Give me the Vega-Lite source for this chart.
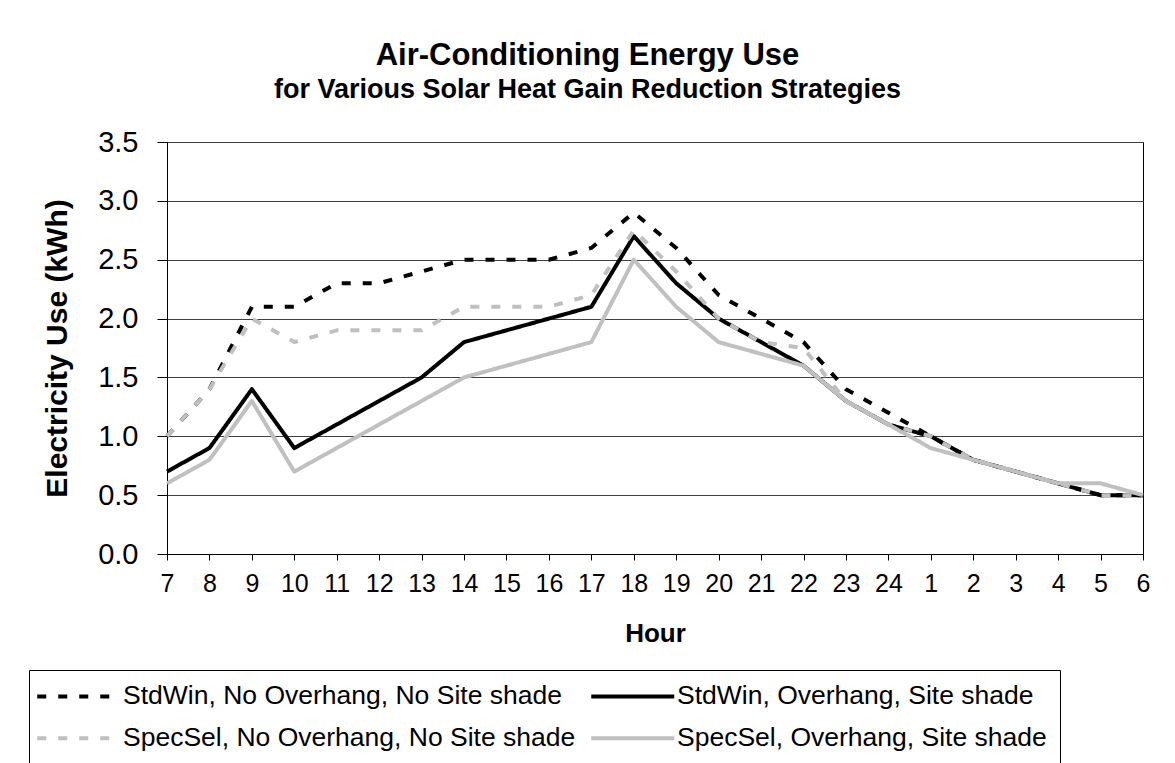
{
  "$schema": "https://vega.github.io/schema/vega-lite/v6.json",
  "width": 976,
  "height": 412,
  "autosize": {"type": "none"},
  "padding": {"left": 167, "top": 142, "right": 32, "bottom": 209},
  "background": "white",
  "title": {
    "text": "Air-Conditioning Energy Use",
    "subtitle": "for Various Solar Heat Gain Reduction Strategies",
    "anchor": "middle",
    "frame": "group",
    "dx": -67.5,
    "offset": 24,
    "font": "Liberation Sans",
    "fontSize": 31,
    "fontWeight": "bold",
    "color": "black",
    "subtitleFont": "Liberation Sans",
    "subtitleFontSize": 27,
    "subtitleFontWeight": "bold",
    "subtitleColor": "black",
    "subtitlePadding": 5
  },
  "data": {
    "values": [
      {"series": "StdWin, No Overhang, No Site shade", "hour": "7", "kwh": 1.0},
      {"series": "StdWin, No Overhang, No Site shade", "hour": "8", "kwh": 1.4},
      {"series": "StdWin, No Overhang, No Site shade", "hour": "9", "kwh": 2.1},
      {"series": "StdWin, No Overhang, No Site shade", "hour": "10", "kwh": 2.1},
      {"series": "StdWin, No Overhang, No Site shade", "hour": "11", "kwh": 2.3},
      {"series": "StdWin, No Overhang, No Site shade", "hour": "12", "kwh": 2.3},
      {"series": "StdWin, No Overhang, No Site shade", "hour": "13", "kwh": 2.4},
      {"series": "StdWin, No Overhang, No Site shade", "hour": "14", "kwh": 2.5},
      {"series": "StdWin, No Overhang, No Site shade", "hour": "15", "kwh": 2.5},
      {"series": "StdWin, No Overhang, No Site shade", "hour": "16", "kwh": 2.5},
      {"series": "StdWin, No Overhang, No Site shade", "hour": "17", "kwh": 2.6},
      {"series": "StdWin, No Overhang, No Site shade", "hour": "18", "kwh": 2.9},
      {"series": "StdWin, No Overhang, No Site shade", "hour": "19", "kwh": 2.6},
      {"series": "StdWin, No Overhang, No Site shade", "hour": "20", "kwh": 2.2},
      {"series": "StdWin, No Overhang, No Site shade", "hour": "21", "kwh": 2.0},
      {"series": "StdWin, No Overhang, No Site shade", "hour": "22", "kwh": 1.8},
      {"series": "StdWin, No Overhang, No Site shade", "hour": "23", "kwh": 1.4},
      {"series": "StdWin, No Overhang, No Site shade", "hour": "24", "kwh": 1.2},
      {"series": "StdWin, No Overhang, No Site shade", "hour": "1", "kwh": 1.0},
      {"series": "StdWin, No Overhang, No Site shade", "hour": "2", "kwh": 0.8},
      {"series": "StdWin, No Overhang, No Site shade", "hour": "3", "kwh": 0.7},
      {"series": "StdWin, No Overhang, No Site shade", "hour": "4", "kwh": 0.6},
      {"series": "StdWin, No Overhang, No Site shade", "hour": "5", "kwh": 0.5},
      {"series": "StdWin, No Overhang, No Site shade", "hour": "6", "kwh": 0.5},
      {"series": "StdWin, Overhang, Site shade", "hour": "7", "kwh": 0.7},
      {"series": "StdWin, Overhang, Site shade", "hour": "8", "kwh": 0.9},
      {"series": "StdWin, Overhang, Site shade", "hour": "9", "kwh": 1.4},
      {"series": "StdWin, Overhang, Site shade", "hour": "10", "kwh": 0.9},
      {"series": "StdWin, Overhang, Site shade", "hour": "11", "kwh": 1.1},
      {"series": "StdWin, Overhang, Site shade", "hour": "12", "kwh": 1.3},
      {"series": "StdWin, Overhang, Site shade", "hour": "13", "kwh": 1.5},
      {"series": "StdWin, Overhang, Site shade", "hour": "14", "kwh": 1.8},
      {"series": "StdWin, Overhang, Site shade", "hour": "15", "kwh": 1.9},
      {"series": "StdWin, Overhang, Site shade", "hour": "16", "kwh": 2.0},
      {"series": "StdWin, Overhang, Site shade", "hour": "17", "kwh": 2.1},
      {"series": "StdWin, Overhang, Site shade", "hour": "18", "kwh": 2.7},
      {"series": "StdWin, Overhang, Site shade", "hour": "19", "kwh": 2.3},
      {"series": "StdWin, Overhang, Site shade", "hour": "20", "kwh": 2.0},
      {"series": "StdWin, Overhang, Site shade", "hour": "21", "kwh": 1.8},
      {"series": "StdWin, Overhang, Site shade", "hour": "22", "kwh": 1.6},
      {"series": "StdWin, Overhang, Site shade", "hour": "23", "kwh": 1.3},
      {"series": "StdWin, Overhang, Site shade", "hour": "24", "kwh": 1.1},
      {"series": "StdWin, Overhang, Site shade", "hour": "1", "kwh": 1.0},
      {"series": "StdWin, Overhang, Site shade", "hour": "2", "kwh": 0.8},
      {"series": "StdWin, Overhang, Site shade", "hour": "3", "kwh": 0.7},
      {"series": "StdWin, Overhang, Site shade", "hour": "4", "kwh": 0.6},
      {"series": "StdWin, Overhang, Site shade", "hour": "5", "kwh": 0.5},
      {"series": "StdWin, Overhang, Site shade", "hour": "6", "kwh": 0.5},
      {"series": "SpecSel, No Overhang, No Site shade", "hour": "7", "kwh": 1.0},
      {"series": "SpecSel, No Overhang, No Site shade", "hour": "8", "kwh": 1.4},
      {"series": "SpecSel, No Overhang, No Site shade", "hour": "9", "kwh": 2.0},
      {"series": "SpecSel, No Overhang, No Site shade", "hour": "10", "kwh": 1.8},
      {"series": "SpecSel, No Overhang, No Site shade", "hour": "11", "kwh": 1.9},
      {"series": "SpecSel, No Overhang, No Site shade", "hour": "12", "kwh": 1.9},
      {"series": "SpecSel, No Overhang, No Site shade", "hour": "13", "kwh": 1.9},
      {"series": "SpecSel, No Overhang, No Site shade", "hour": "14", "kwh": 2.1},
      {"series": "SpecSel, No Overhang, No Site shade", "hour": "15", "kwh": 2.1},
      {"series": "SpecSel, No Overhang, No Site shade", "hour": "16", "kwh": 2.1},
      {"series": "SpecSel, No Overhang, No Site shade", "hour": "17", "kwh": 2.2},
      {"series": "SpecSel, No Overhang, No Site shade", "hour": "18", "kwh": 2.75},
      {"series": "SpecSel, No Overhang, No Site shade", "hour": "19", "kwh": 2.4},
      {"series": "SpecSel, No Overhang, No Site shade", "hour": "20", "kwh": 2.0},
      {"series": "SpecSel, No Overhang, No Site shade", "hour": "21", "kwh": 1.8},
      {"series": "SpecSel, No Overhang, No Site shade", "hour": "22", "kwh": 1.75},
      {"series": "SpecSel, No Overhang, No Site shade", "hour": "23", "kwh": 1.3},
      {"series": "SpecSel, No Overhang, No Site shade", "hour": "24", "kwh": 1.1},
      {"series": "SpecSel, No Overhang, No Site shade", "hour": "1", "kwh": 1.0},
      {"series": "SpecSel, No Overhang, No Site shade", "hour": "2", "kwh": 0.8},
      {"series": "SpecSel, No Overhang, No Site shade", "hour": "3", "kwh": 0.7},
      {"series": "SpecSel, No Overhang, No Site shade", "hour": "4", "kwh": 0.6},
      {"series": "SpecSel, No Overhang, No Site shade", "hour": "5", "kwh": 0.5},
      {"series": "SpecSel, No Overhang, No Site shade", "hour": "6", "kwh": 0.5},
      {"series": "SpecSel, Overhang, Site shade", "hour": "7", "kwh": 0.6},
      {"series": "SpecSel, Overhang, Site shade", "hour": "8", "kwh": 0.8},
      {"series": "SpecSel, Overhang, Site shade", "hour": "9", "kwh": 1.3},
      {"series": "SpecSel, Overhang, Site shade", "hour": "10", "kwh": 0.7},
      {"series": "SpecSel, Overhang, Site shade", "hour": "11", "kwh": 0.9},
      {"series": "SpecSel, Overhang, Site shade", "hour": "12", "kwh": 1.1},
      {"series": "SpecSel, Overhang, Site shade", "hour": "13", "kwh": 1.3},
      {"series": "SpecSel, Overhang, Site shade", "hour": "14", "kwh": 1.5},
      {"series": "SpecSel, Overhang, Site shade", "hour": "15", "kwh": 1.6},
      {"series": "SpecSel, Overhang, Site shade", "hour": "16", "kwh": 1.7},
      {"series": "SpecSel, Overhang, Site shade", "hour": "17", "kwh": 1.8},
      {"series": "SpecSel, Overhang, Site shade", "hour": "18", "kwh": 2.5},
      {"series": "SpecSel, Overhang, Site shade", "hour": "19", "kwh": 2.1},
      {"series": "SpecSel, Overhang, Site shade", "hour": "20", "kwh": 1.8},
      {"series": "SpecSel, Overhang, Site shade", "hour": "21", "kwh": 1.7},
      {"series": "SpecSel, Overhang, Site shade", "hour": "22", "kwh": 1.6},
      {"series": "SpecSel, Overhang, Site shade", "hour": "23", "kwh": 1.3},
      {"series": "SpecSel, Overhang, Site shade", "hour": "24", "kwh": 1.1},
      {"series": "SpecSel, Overhang, Site shade", "hour": "1", "kwh": 0.9},
      {"series": "SpecSel, Overhang, Site shade", "hour": "2", "kwh": 0.8},
      {"series": "SpecSel, Overhang, Site shade", "hour": "3", "kwh": 0.7},
      {"series": "SpecSel, Overhang, Site shade", "hour": "4", "kwh": 0.6},
      {"series": "SpecSel, Overhang, Site shade", "hour": "5", "kwh": 0.6},
      {"series": "SpecSel, Overhang, Site shade", "hour": "6", "kwh": 0.5}
    ]
  },
  "mark": {"type": "line", "strokeWidth": 4, "strokeJoin": "round", "strokeCap": "butt"},
  "encoding": {
    "x": {
      "field": "hour",
      "type": "ordinal",
      "scale": {"type": "point", "padding": 0, "domain": ["7","8","9","10","11","12","13","14","15","16","17","18","19","20","21","22","23","24","1","2","3","4","5","6"]},
      "axis": {
        "title": "Hour",
        "labelAngle": 0,
        "labelOverlap": false,
        "labelFontSize": 25,
        "tickSize": 6,
        "labelPadding": 11,
        "titleFontSize": 26,
        "titleFontWeight": "bold",
        "titleY": 66,
        "titleBaseline": "top",
        "grid": false
      }
    },
    "y": {
      "field": "kwh",
      "type": "quantitative",
      "scale": {"domain": [0, 3.5], "nice": false},
      "axis": {
        "title": "Electricity Use (kWh)",
        "values": [0, 0.5, 1, 1.5, 2, 2.5, 3, 3.5],
        "format": ".1f",
        "labelFontSize": 29,
        "tickSize": 10,
        "labelPadding": 19,
        "titleFontSize": 30,
        "titleFontWeight": "bold",
        "titleX": -95,
        "titleY": 206,
        "grid": true,
        "gridColor": "#404040",
        "gridWidth": 1
      }
    },
    "color": {
      "field": "series",
      "type": "nominal",
      "sort": null,
      "scale": {
        "domain": ["StdWin, No Overhang, No Site shade", "SpecSel, No Overhang, No Site shade", "StdWin, Overhang, Site shade", "SpecSel, Overhang, Site shade"],
        "range": ["#000000", "#c0c0c0", "#000000", "#c0c0c0"]
      },
      "legend": {"title": null, "orient": "none", "legendX": -138, "legendY": 528, "columns": 2}
    },
    "strokeDash": {
      "field": "series",
      "type": "nominal",
      "sort": null,
      "scale": {
        "domain": ["StdWin, No Overhang, No Site shade", "SpecSel, No Overhang, No Site shade", "StdWin, Overhang, Site shade", "SpecSel, Overhang, Site shade"],
        "range": [[9, 12], [9, 12], [1, 0], [1, 0]]
      },
      "legend": {"title": null, "orient": "none", "legendX": -138, "legendY": 528, "columns": 2}
    }
  },
  "config": {
    "font": "Liberation Sans",
    "view": {"stroke": "#000000", "strokeWidth": 1},
    "axis": {
      "labelFont": "Liberation Sans",
      "titleFont": "Liberation Sans",
      "labelColor": "#000000",
      "titleColor": "#000000",
      "domainColor": "#000000",
      "tickColor": "#000000",
      "domainWidth": 1,
      "tickWidth": 1
    },
    "legend": {
      "labelFont": "Liberation Sans",
      "labelFontSize": 26.5,
      "labelColor": "#000000",
      "symbolType": "M-3.6,0H13",
      "symbolSize": 100,
      "symbolStrokeWidth": 4,
      "labelOffset": 54.5,
      "symbolOffset": 0,
      "padding": 13,
      "rowPadding": 15,
      "columnPadding": 7,
      "gridAlign": "all",
      "strokeColor": "#000000",
      "fillColor": "#ffffff",
      "labelLimit": 0
    }
  }
}
